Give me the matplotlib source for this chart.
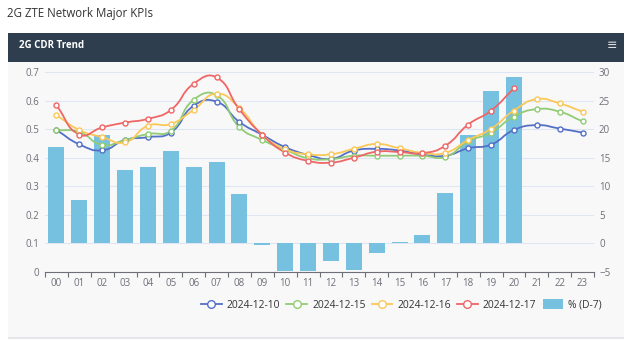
import numpy as np
import matplotlib
matplotlib.use("Agg")
import matplotlib.pyplot as plt
import matplotlib.patches as patches
from matplotlib.path import Path
from matplotlib.lines import Line2D

plt.rcParams['font.family'] = ['Open Sans', 'DejaVu Sans']

# 데이터
hours = ["%02d" % h for h in range(24)]
d1210 = [0.497, 0.447, 0.426, 0.462, 0.472, 0.488, 0.582, 0.596, 0.525, 0.480, 0.437, 0.410,
         0.396, 0.425, 0.431, 0.425, 0.411, 0.407, 0.433, 0.446, 0.497, 0.514, 0.502, 0.488]
d1215 = [0.497, 0.490, 0.445, 0.462, 0.483, 0.494, 0.603, 0.619, 0.507, 0.462, 0.428, 0.398,
         0.395, 0.407, 0.407, 0.407, 0.407, 0.403, 0.457, 0.488, 0.544, 0.570, 0.561, 0.527]
d1216 = [0.549, 0.497, 0.472, 0.454, 0.512, 0.518, 0.568, 0.624, 0.574, 0.480, 0.430, 0.412,
         0.412, 0.431, 0.448, 0.433, 0.417, 0.417, 0.462, 0.501, 0.565, 0.605, 0.590, 0.561]
d1217 = [0.583, 0.481, 0.506, 0.523, 0.536, 0.567, 0.659, 0.681, 0.569, 0.480, 0.418, 0.389,
         0.383, 0.400, 0.421, 0.420, 0.416, 0.442, 0.516, 0.565, 0.643]
pct_d7 = [16.8, 7.6, 19.0, 12.9, 13.4, 16.1, 13.3, 14.2, 8.6, -0.35, -4.9, -4.8,
          -3.05, -4.7, -1.75, 0.23, 1.5, 8.8, 18.9, 26.6, 29.2]

series = [("2024-12-10", d1210, "#5470c6"),
          ("2024-12-15", d1215, "#91cc75"),
          ("2024-12-16", d1216, "#fac858"),
          ("2024-12-17", d1217, "#ee6666")]
bar_color = "#76c0e0"
grey = "#6e7079"


def smooth_path(xs, ys, sx, sy, smooth=0.5):
    # echarts 식 부드러운 곡선 (베지어 제어점)
    px = np.asarray(xs, float) * sx
    py = np.asarray(ys, float) * sy
    n = len(px)
    verts = [(px[0], py[0])]
    codes = [Path.MOVETO]
    cps = []
    for i in range(n):
        prev_i = max(i - 1, 0)
        next_i = min(i + 1, n - 1)
        vx = px[next_i] - px[prev_i]
        vy = py[next_i] - py[prev_i]
        d0 = np.hypot(px[i] - px[prev_i], py[i] - py[prev_i])
        d1 = np.hypot(px[next_i] - px[i], py[next_i] - py[i])
        tot = d0 + d1
        r0 = d0 / tot if tot else 0
        r1 = d1 / tot if tot else 0
        cps.append(((px[i] - vx * smooth * r0, py[i] - vy * smooth * r0),
                    (px[i] + vx * smooth * r1, py[i] + vy * smooth * r1)))
    for i in range(n - 1):
        verts += [cps[i][1], cps[i + 1][0], (px[i + 1], py[i + 1])]
        codes += [Path.CURVE4] * 3
    verts = [(vx_ / sx, vy_ / sy) for vx_, vy_ in verts]
    return Path(verts, codes)


fig = plt.figure(figsize=(6.24, 3.40), dpi=100)
fig.patch.set_facecolor("#ffffff")
W, H = 624.0, 340.0

# 카드 배경 + 헤더
fig.patches.append(patches.Rectangle((8 / W, 1 - 339 / H), 616 / W, 4 / H, transform=fig.transFigure,
                                     facecolor="#e4e6ea", edgecolor="none", zorder=-3))
fig.patches.append(patches.Rectangle((8 / W, 1 - 337 / H), 616 / W, 304 / H, transform=fig.transFigure,
                                     facecolor="#f8f8f9", edgecolor="none", zorder=-2))
fig.patches.append(patches.Rectangle((8 / W, 1 - 62 / H), 616 / W, 29 / H, transform=fig.transFigure,
                                     facecolor="#2e3e4f", edgecolor="none", zorder=-1))
fig.text(7 / W, 1 - 14 / H, "2G ZTE Network Major KPIs", fontsize=8.3, color="#333333",
         va="center", ha="left")
fig.text(19 / W, 1 - 46 / H, "2G CDR Trend", fontsize=7, color="white", fontweight="bold",
         va="center", ha="left")
fig.text(612 / W, 1 - 46 / H, "≡", fontsize=9, color="#dddddd", va="center", ha="center")

# 축
ax2 = fig.add_axes([45 / W, 1 - 272 / H, 549 / W, 200 / H])
ax = ax2.twinx()
ax.set_zorder(ax2.get_zorder() + 1)
ax.patch.set_visible(False)
ax2.patch.set_visible(False)

x = np.arange(len(hours))
ax2.bar(np.arange(len(pct_d7)), pct_d7, width=0.7, color=bar_color, zorder=2)
ax2.set_ylim(-5, 30)
ax2.set_yticks(np.arange(-5, 31, 5))
ax2.grid(axis="y", color="#e0e6f1", linewidth=0.8)
ax2.set_axisbelow(True)

sx, sy = 22.83, 285.0
for name, vals, col in series:
    xv = np.arange(len(vals))
    path = smooth_path(xv, vals, sx, sy)
    ax.add_patch(patches.PathPatch(path, facecolor="none", edgecolor=col, linewidth=1.3, zorder=3))
    ax.plot(xv, vals, linestyle="none", marker="o", markersize=3.6, markerfacecolor="white",
            markeredgecolor=col, markeredgewidth=1.0, zorder=4)
ax.set_ylim(0, 0.7)
ax.set_xlim(-0.5, 23.5)

# 왼쪽/오른쪽 축 위치 교환 (선 = 왼쪽, 막대 = 오른쪽)
ax.yaxis.tick_left()
ax2.yaxis.tick_right()
ax.set_yticks(np.arange(0, 0.71, 0.1))
ax.set_yticklabels(["0"] + ["%.1f" % v for v in np.arange(0.1, 0.71, 0.1)])
for a in (ax, ax2):
    for s in a.spines.values():
        s.set_visible(False)
    a.tick_params(axis="y", length=0, labelsize=7, labelcolor=grey)
ax.tick_params(axis="y", pad=4.3)
ax2.tick_params(axis="y", pad=3.6)
ax2.spines["bottom"].set_visible(True)
ax2.spines["bottom"].set_color(grey)
ax2.spines["bottom"].set_linewidth(0.8)

ax2.set_xlim(-0.5, 23.5)
ax2.set_xticks(x)
ax2.set_xticklabels(hours)
ax2.set_xticks(np.arange(-0.5, 24, 1), minor=True)
ax2.tick_params(axis="x", which="major", length=0, labelsize=7, labelcolor=grey, pad=4)
ax2.tick_params(axis="x", which="minor", length=3.5, color=grey, width=0.8)

# 범례
handles = [Line2D([0], [0], color=c, linewidth=1.3, marker="o", markersize=5.5,
                  markerfacecolor="white", markeredgecolor=c, markeredgewidth=1.0)
           for _, _, c in series]
handles.append(patches.Patch(facecolor=bar_color, edgecolor="none"))
labels = [s[0] for s in series] + ["% (D-7)"]
fig.legend(handles, labels, loc="center right", bbox_to_anchor=(606 / W, 1 - 305 / H),
           ncol=5, frameon=False, fontsize=7.4, labelcolor="#333333", handlelength=2.0,
           handleheight=1.05, handletextpad=0.5, columnspacing=0.6, borderaxespad=0)

fig.savefig("out.png", dpi=100, facecolor=fig.get_facecolor())
